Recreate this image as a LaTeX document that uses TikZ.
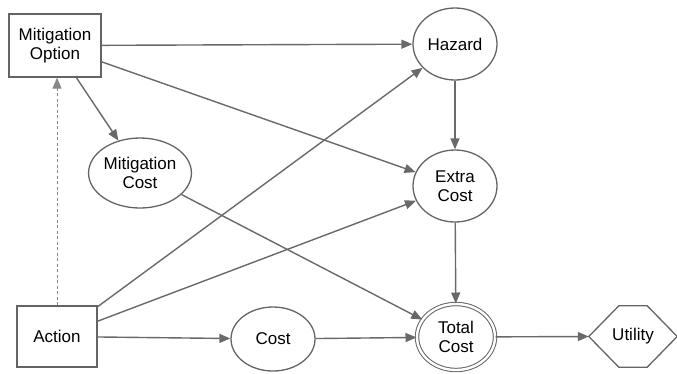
\documentclass[tikz,border=0pt]{standalone}
\usepackage{fontspec}
\setmainfont{Liberation Sans}
\usetikzlibrary{shapes.geometric,arrows.meta}
\definecolor{edgegray}{RGB}{105,105,105}
\definecolor{bordergray}{RGB}{100,100,100}
\tikzset{
  base/.style={draw=bordergray, line width=1.3pt, inner sep=0pt, align=center,
    font=\fontsize{17}{19}\selectfont, text=black},
  chance/.style={base, ellipse},
  decision/.style={base, rectangle},
  conn/.style={draw=edgegray, line width=1.4pt, -{Triangle[length=11pt,width=9pt]}},
  info/.style={draw=edgegray!80, line width=0.9pt, dash pattern=on 3pt off 2.5pt,
    -{Triangle[length=11pt,width=9pt]}},
}
\begin{document}
\begin{tikzpicture}[x=1pt,y=-1pt]
\useasboundingbox (0,0) rectangle (677,373);
\node[decision, minimum width=92pt, minimum height=63pt] (mo) at (55,45.5) {Mitigation\\Option};
\node[decision, minimum width=80pt, minimum height=61pt] (act) at (57,336.5) {Action};
\node[chance, minimum width=96pt, minimum height=70pt] (mc) at (140,173) {Mitigation\\Cost};
\node[chance, minimum width=84pt, minimum height=72pt] (hz) at (455,44) {Hazard};
\node[chance, minimum width=84pt, minimum height=72pt] (ec) at (455,186) {Extra\\Cost};
\node[chance, minimum width=84pt, minimum height=64pt] (cost) at (273,339) {Cost};
\node[chance, double=white, double distance=2.4pt, line width=1pt, minimum width=78pt, minimum height=66pt] (tc) at (456,337) {Total\\Cost};
\node[minimum width=88pt, minimum height=61pt, inner sep=0pt, font=\fontsize{17}{19}\selectfont] (ut) at (633,336.5) {Utility};
\draw[draw=bordergray, line width=1.3pt] (ut.west) -- ([xshift=30pt]ut.north west) -- ([xshift=-30pt]ut.north east) -- (ut.east) -- ([xshift=-30pt]ut.south east) -- ([xshift=30pt]ut.south west) -- cycle;

\draw[conn] (mo) -- (hz);
\draw[conn] (mo) -- (mc);
\draw[conn] (mo) -- (ec);
\draw[conn] (mc) -- (tc);
\draw[conn] (act) -- (hz);
\draw[conn] (act) -- (ec);
\draw[conn] (act) -- (cost);
\draw[conn] (hz) -- (ec);
\draw[conn] (ec) -- (tc);
\draw[conn] (cost) -- (tc);
\draw[conn] (tc) -- (ut.west);
\draw[info] (act.north) -- (act.north |- mo.south);
\end{tikzpicture}
\end{document}
